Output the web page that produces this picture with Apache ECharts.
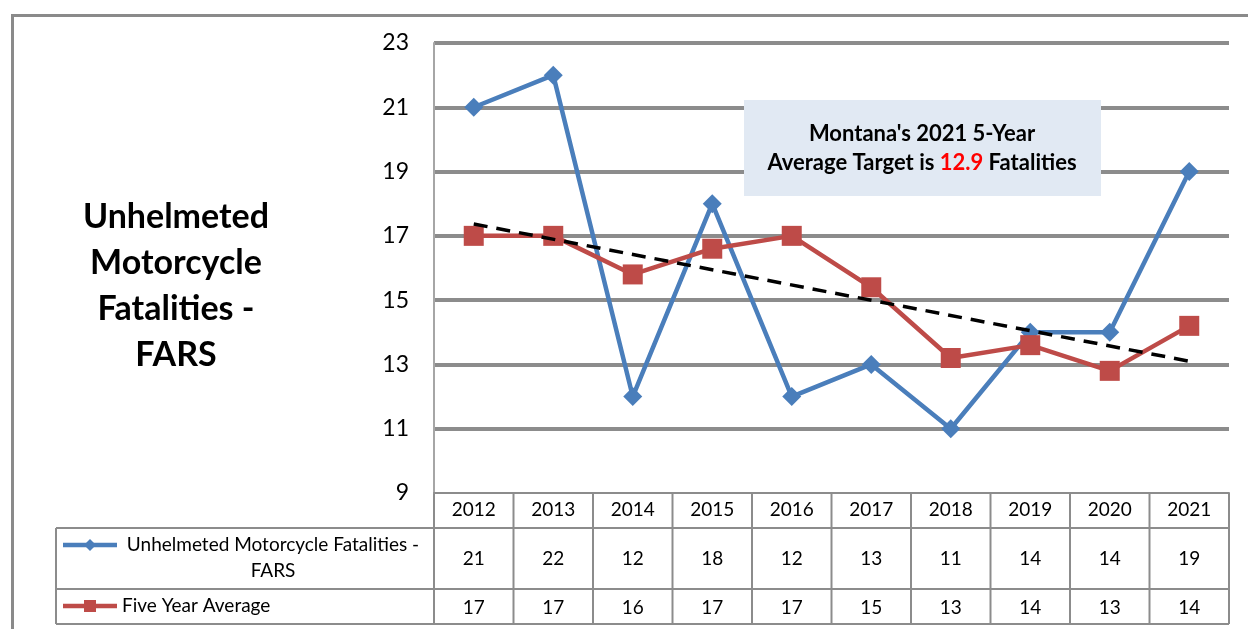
<!DOCTYPE html>
<html>
<head>
<meta charset="utf-8">
<script src="https://cdn.jsdelivr.net/npm/echarts@6/dist/echarts.min.js"></script>
<style>
  html, body { margin: 0; padding: 0; background: #fff; }
  #chart { width: 1248px; height: 629px; }
</style>
</head>
<body>
<div id="chart"></div>
<script>
const years = ["2012", "2013", "2014", "2015", "2016", "2017", "2018", "2019", "2020", "2021"];
const unhelmeted = [21, 22, 12, 18, 12, 13, 11, 14, 14, 19];
const fiveYearAvg = [17, 17, 15.8, 16.6, 17, 15.4, 13.2, 13.6, 12.8, 14.2];
const trendLine = [17.37, null, null, null, null, null, null, null, null, 13.1];
// values as printed in the data table under the chart
const unhelmetedTable = [21, 22, 12, 18, 12, 13, 11, 14, 14, 19];
const avgTable = [17, 17, 16, 17, 17, 15, 13, 14, 13, 14];

const FONT = "Lato, 'Liberation Sans', sans-serif";
const BLUE = "#4a7ebb";
const RED = "#be4b48";
const GRID_GRAY = "#8c8c8c";
const TABLE_GRAY = "#8c8c8c";

const chart = echarts.init(document.getElementById("chart"));

chart.setOption({
  animation: false,
  textStyle: { fontFamily: FONT },
  grid: { left: 434, right: 19, top: 43, bottom: 136 },
  xAxis: {
    type: "category",
    data: years,
    boundaryGap: true,
    axisLine: { show: true, lineStyle: { color: TABLE_GRAY, width: 2 } },
    axisTick: { show: false },
    axisLabel: { color: "#000", fontSize: 19, margin: 7, fontFamily: FONT },
    splitLine: { show: false }
  },
  yAxis: {
    type: "value",
    min: 9,
    max: 23,
    interval: 2,
    axisLine: { show: true, lineStyle: { color: "#a6a6a6", width: 2 } },
    axisTick: { show: false },
    axisLabel: { color: "#000", fontSize: 23, margin: 25, fontFamily: FONT },
    splitLine: { show: true, showMinLine: false, lineStyle: { color: GRID_GRAY, width: 4 } }
  },
  series: [
    {
      name: "Unhelmeted Motorcycle Fatalities - FARS",
      type: "line",
      data: unhelmeted,
      symbol: "diamond",
      symbolSize: 19,
      itemStyle: { color: BLUE },
      lineStyle: { color: BLUE, width: 4.5 },
      z: 3
    },
    {
      name: "Five Year Average",
      type: "line",
      data: fiveYearAvg,
      symbol: "rect",
      symbolSize: 20,
      itemStyle: { color: RED },
      lineStyle: { color: RED, width: 4.5 },
      z: 4
    },
    {
      name: "Trend",
      type: "line",
      data: trendLine,
      connectNulls: true,
      symbol: "none",
      lineStyle: { color: "#000", width: 3.5, type: [14, 9] },
      z: 5
    }
  ]
});

// data table + decorations, placed from the axis positions
const half = (chart.convertToPixel({ xAxisIndex: 0 }, years[1]) - chart.convertToPixel({ xAxisIndex: 0 }, years[0])) / 2;
const centers = years.map((y) => chart.convertToPixel({ xAxisIndex: 0 }, y));
const plotLeft = centers[0] - half;
const plotRight = centers[centers.length - 1] + half;
const tableLeft = 56;
const headTop = 493, row1Top = 528, row2Top = 589, tableBottom = 624;

const lineStyle = { stroke: TABLE_GRAY, lineWidth: 2 };
const graphics = [];

// outer frame
graphics.push({
  type: "rect", left: 10, top: 13, z: 0,
  shape: { x: 0, y: 0, width: 1300, height: 700 },
  style: { fill: null, stroke: "#8a8a8a", lineWidth: 3 }
});

// horizontal table lines
[row1Top, row2Top, tableBottom].forEach((y) => {
  graphics.push({ type: "line", shape: { x1: tableLeft, y1: y, x2: plotRight, y2: y }, style: lineStyle });
});
// vertical table lines
graphics.push({ type: "line", shape: { x1: tableLeft, y1: row1Top, x2: tableLeft, y2: tableBottom }, style: lineStyle });
for (let i = 0; i <= years.length; i++) {
  const x = plotLeft + i * 2 * half;
  graphics.push({ type: "line", shape: { x1: x, y1: headTop, x2: x, y2: tableBottom }, style: lineStyle });
}

// table values
centers.forEach((cx, i) => {
  graphics.push({
    type: "text", x: cx, y: (row1Top + row2Top) / 2,
    style: { text: String(unhelmetedTable[i]), fill: "#000", font: "19px " + FONT, align: "center", verticalAlign: "middle" }
  });
  graphics.push({
    type: "text", x: cx, y: (row2Top + tableBottom) / 2 + 1,
    style: { text: String(avgTable[i]), fill: "#000", font: "19px " + FONT, align: "center", verticalAlign: "middle" }
  });
});

// row headers with legend keys
graphics.push({ type: "line", shape: { x1: 63, y1: 545, x2: 117, y2: 545 }, style: { stroke: BLUE, lineWidth: 4.5 } });
graphics.push({ type: "polygon", shape: { points: [[90, 539], [96, 545], [90, 551], [84, 545]] }, style: { fill: BLUE } });
graphics.push({
  type: "text", x: 273, y: 558,
  style: { text: "Unhelmeted Motorcycle Fatalities -\nFARS", fill: "#000", font: "19px " + FONT, align: "center", verticalAlign: "middle", lineHeight: 26 }
});
graphics.push({ type: "line", shape: { x1: 63, y1: 606, x2: 117, y2: 606 }, style: { stroke: RED, lineWidth: 4.5 } });
graphics.push({ type: "rect", shape: { x: 84, y: 600, width: 12, height: 12 }, style: { fill: RED } });
graphics.push({
  type: "text", x: 122, y: 606,
  style: { text: "Five Year Average", fill: "#000", font: "19px " + FONT, align: "left", verticalAlign: "middle" }
});

// big left title
graphics.push({
  type: "text", x: 176, y: 286,
  style: {
    text: "Unhelmeted\nMotorcycle\nFatalities -\nFARS",
    fill: "#000", font: "bold 34px " + FONT, align: "center", verticalAlign: "middle", lineHeight: 46
  }
});

// annotation box
graphics.push({
  type: "rect", z: 10,
  shape: { x: 744, y: 100, width: 357, height: 96 },
  style: { fill: "#e1e9f3" }
});
graphics.push({
  type: "text", z: 11, x: 922, y: 148,
  style: {
    text: "{b|Montana's 2021 5-Year}\n{b|Average Target is }{r|12.9}{b| Fatalities}",
    align: "center", verticalAlign: "middle",
    rich: {
      b: { font: "bold 22px " + FONT, fill: "#000", lineHeight: 29 },
      r: { font: "bold 22px " + FONT, fill: "#ff0000", lineHeight: 29 }
    }
  }
});

chart.setOption({ graphic: { elements: graphics } });
</script>
</body>
</html>
